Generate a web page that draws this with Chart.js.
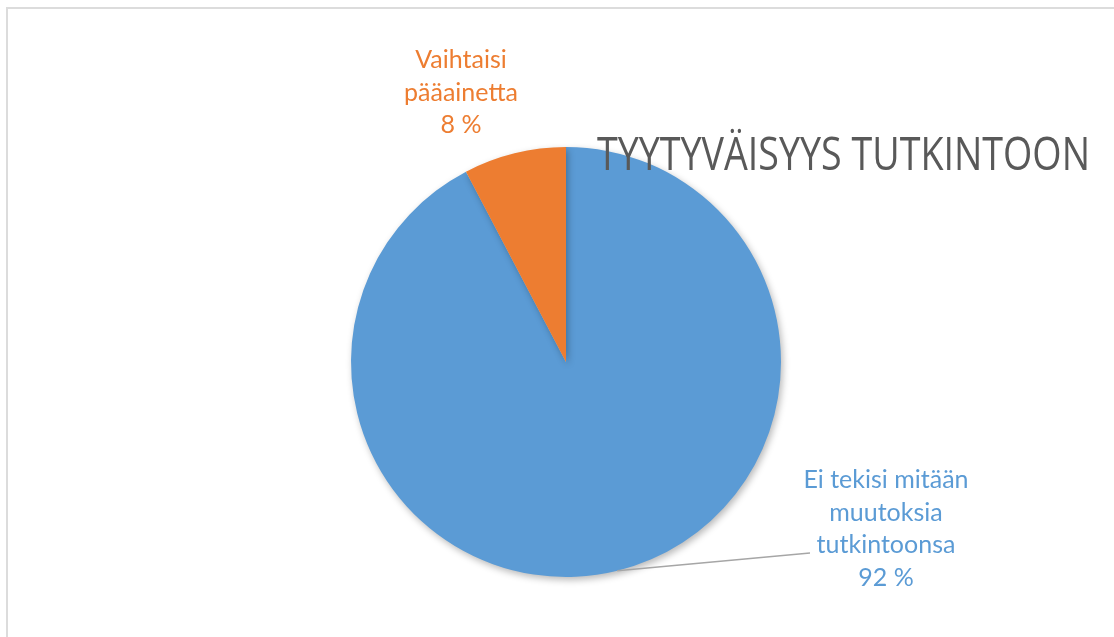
<!DOCTYPE html>
<html>
<head>
<meta charset="utf-8">
<script src="https://cdn.jsdelivr.net/npm/chart.js@4"></script>
<style>
  html, body { margin: 0; padding: 0; background: #fff; overflow: hidden; }
  #frame { position: absolute; left: 6px; top: 7px; width: 1200px; height: 700px;
           border: 2px solid #dcdcdc; box-sizing: border-box; }
  #wrap { position: absolute; left: 0; top: 0; width: 1114px; height: 637px; }
</style>
</head>
<body>
<div id="frame"></div>
<div id="wrap"><canvas id="pie" width="1114" height="637"></canvas></div>
<script>
// chart data
const categories = ["Ei tekisi mitään muutoksia tutkintoonsa", "Vaihtaisi pääainetta"];
const labelLines = [["Ei tekisi mitään", "muutoksia", "tutkintoonsa"], ["Vaihtaisi", "pääainetta"]];
const shares = [92.3, 7.7];
const colors = ["#5b9bd5", "#ed7d31"];
const chartTitle = "TYYTYVÄISYYS TUTKINTOON";

// soft shadow under the pie, like the office chart
const shadowPlugin = {
  id: 'shadow',
  beforeDatasetDraw(chart) {
    const ctx = chart.ctx;
    ctx.save();
    ctx.shadowColor = 'rgba(0,0,0,0.28)';
    ctx.shadowBlur = 7;
    ctx.shadowOffsetX = 2;
    ctx.shadowOffsetY = 3;
  },
  afterDatasetDraw(chart) {
    chart.ctx.restore();
  }
};

// title + data labels drawn by hand
const labelPlugin = {
  id: 'labels',
  afterDraw(chart) {
    const ctx = chart.ctx;
    const arcs = chart.getDatasetMeta(0).data;

    // title, squeezed to the narrow look of the original
    ctx.save();
    ctx.font = '400 45px "Open Sans"';
    ctx.fillStyle = '#595959';
    ctx.textBaseline = 'alphabetic';
    const w = ctx.measureText(chartTitle).width;
    ctx.translate(597, 170);
    ctx.scale(493 / w, 1);
    ctx.fillText(chartTitle, 0, 0);
    ctx.restore();

    // leader line for the big slice
    const a = arcs[0];
    const ang = Math.atan2(208, 51);
    ctx.save();
    ctx.strokeStyle = '#a6a6a6';
    ctx.lineWidth = 1.5;
    ctx.beginPath();
    ctx.moveTo(a.x + a.outerRadius * Math.cos(ang), a.y + a.outerRadius * Math.sin(ang));
    ctx.lineTo(810, 553);
    ctx.stroke();
    ctx.restore();

    const spots = [{x: 886, y: 488}, {x: 461, y: 68}];
    ctx.save();
    ctx.font = '25px Lato';
    ctx.textAlign = 'center';
    ctx.textBaseline = 'alphabetic';
    for (let i = 0; i < categories.length; i++) {
      ctx.fillStyle = colors[i];
      const lines = labelLines[i].concat([Math.round(shares[i]) + " %"]);
      for (let j = 0; j < lines.length; j++) {
        ctx.fillText(lines[j], spots[i].x, spots[i].y + j * 32.5);
      }
    }
    ctx.restore();
  }
};

const data = {
  labels: categories,
  datasets: [{
    data: shares,
    backgroundColor: colors,
    borderWidth: 0,
  }]
};

const options = {
  responsive: false,
  animation: false,
  layout: {
    padding: {left: 351, right: 333, top: 147, bottom: 60}
  },
  plugins: {
    legend: { display: false },
    tooltip: { enabled: false },
    title: { display: false }
  }
};

const ctx = document.getElementById('pie').getContext('2d');
myChart = new Chart(ctx, {
  type: 'pie',
  data: data,
  options: options,
  plugins: [shadowPlugin, labelPlugin],
});
</script>
</body>
</html>
